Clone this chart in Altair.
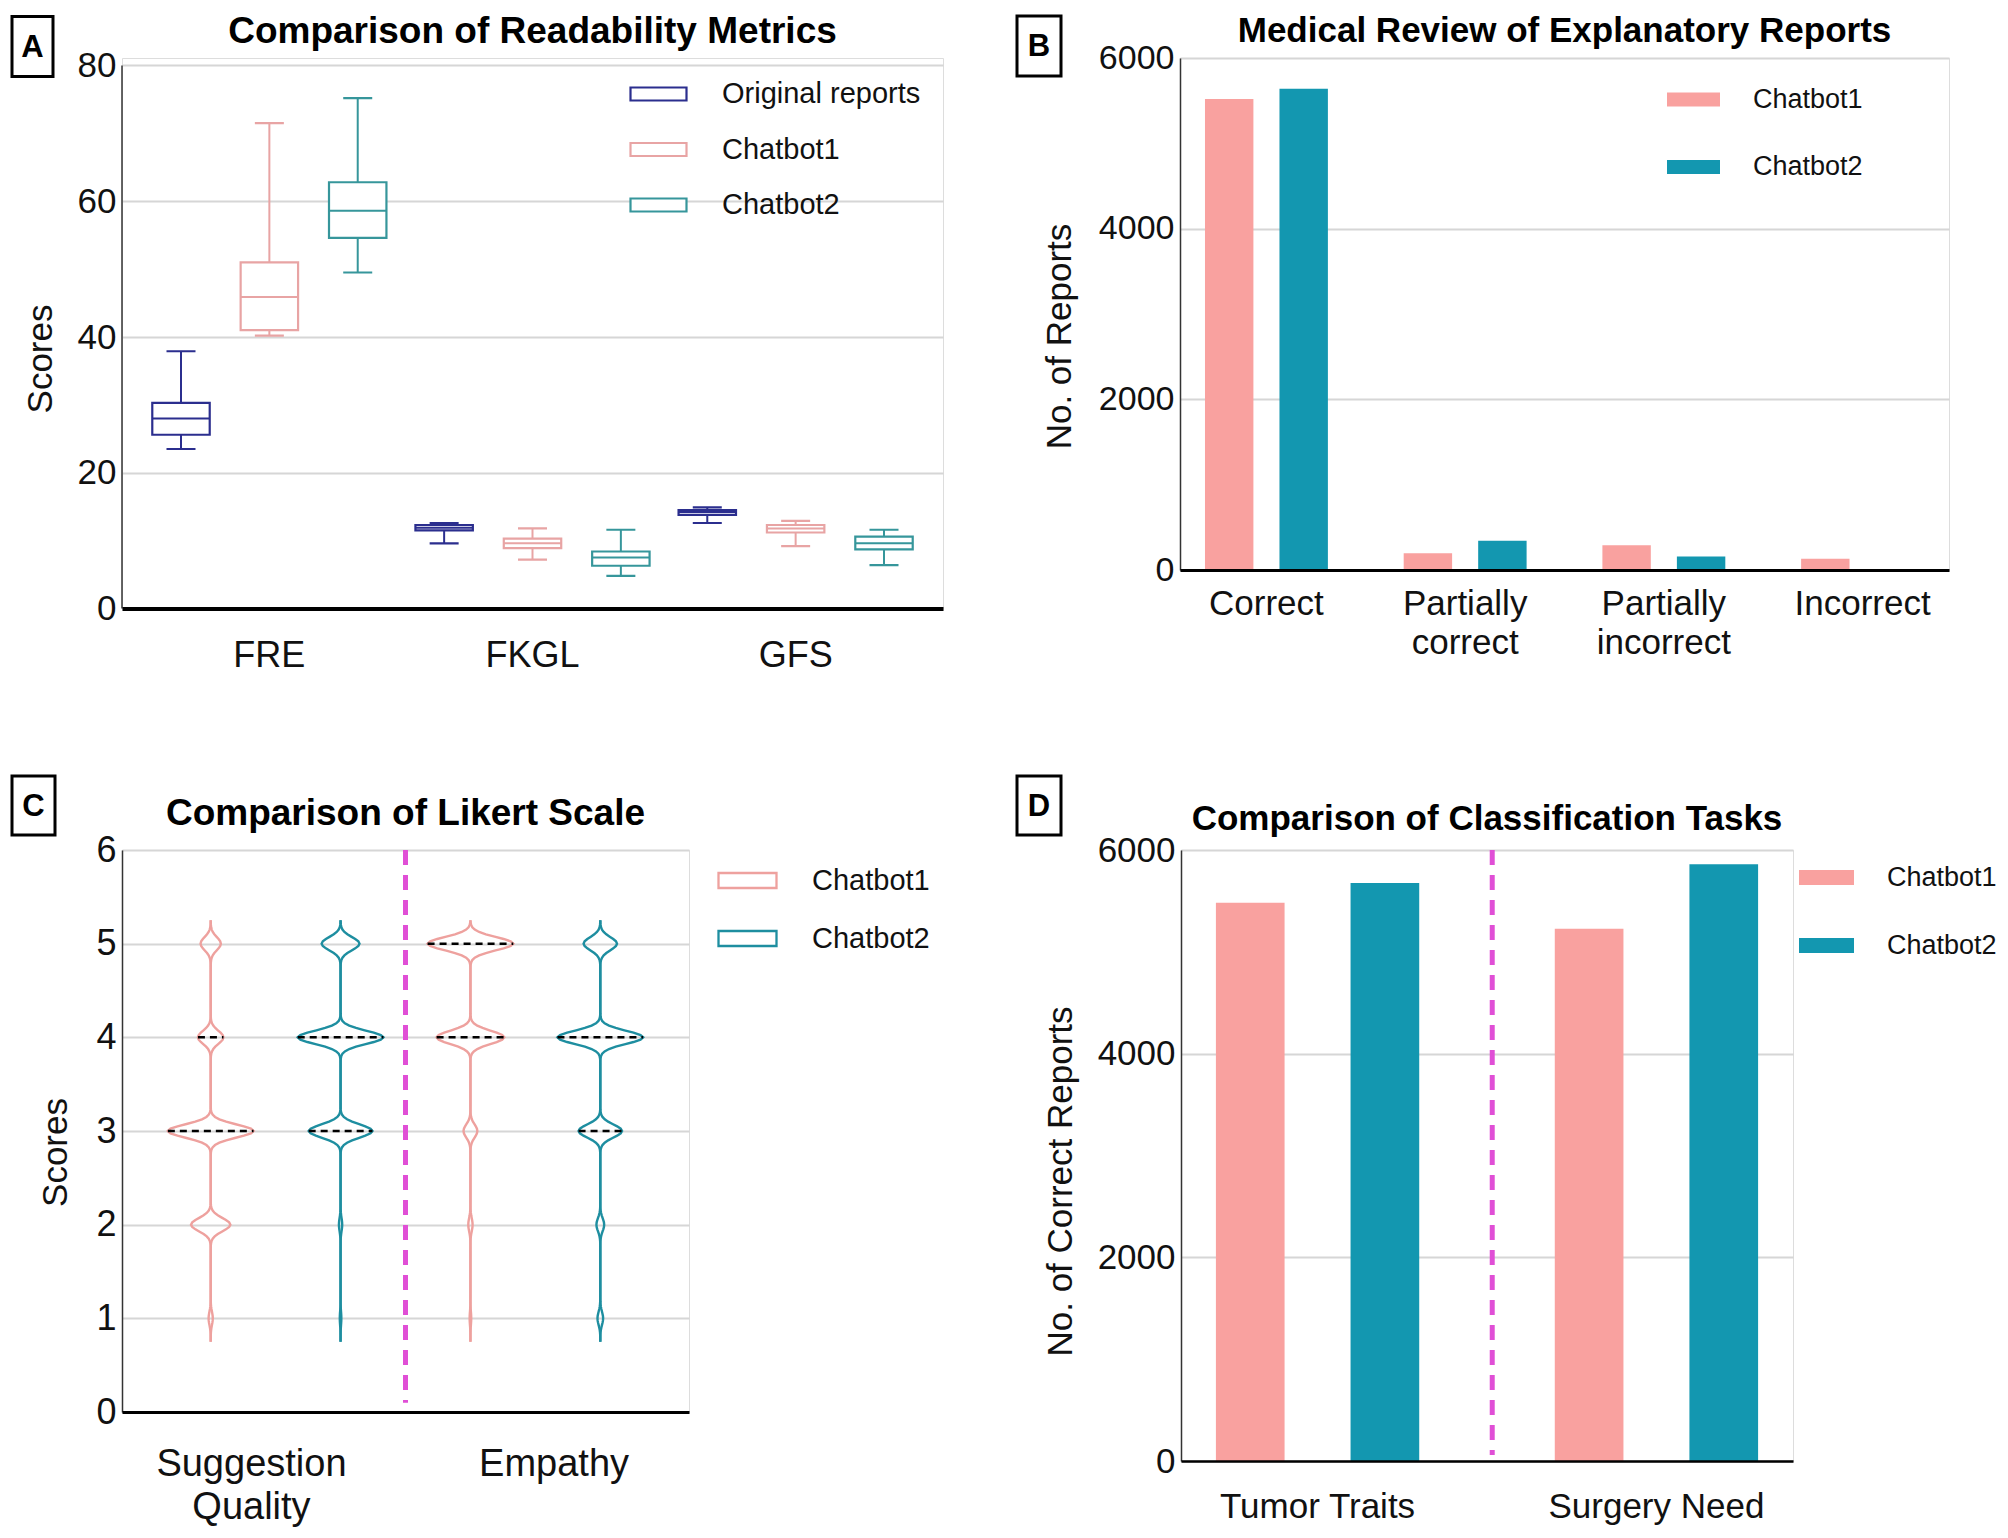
import altair as alt
import numpy as np
import pandas as pd

FONT = "Liberation Sans"
TXT = "#111111"
GRID = "#d6d6d6"

panel_titles = [
    "Comparison of Readability Metrics",
    "Medical Review of Explanatory Reports",
    "Comparison of Likert Scale",
    "Comparison of Classification Tasks",
]

# ---------------- Panel A: readability metrics (box plots) ----------------
a_metrics = ["FRE", "FKGL", "GFS"]
a_groups = ["Original reports", "Chatbot1", "Chatbot2"]
a_colors = ["#2b2e8e", "#e8a4a4", "#36969b"]
a_range = [0, 80]
# order: FRE(orig, c1, c2), FKGL(orig, c1, c2), GFS(orig, c1, c2)
a_min = [23.5, 40.2, 49.5, 9.6, 7.2, 4.8, 12.6, 9.2, 6.4]
a_q1 = [25.6, 41.0, 54.6, 11.5, 8.9, 6.3, 13.8, 11.2, 8.7]
a_med = [28.0, 45.9, 58.6, 11.9, 9.6, 7.5, 14.2, 11.8, 9.6]
a_q3 = [30.3, 51.0, 62.8, 12.3, 10.3, 8.4, 14.5, 12.3, 10.6]
a_max = [37.9, 71.5, 75.2, 12.6, 11.8, 11.6, 14.9, 12.9, 11.6]

# ---------------- Panel B: medical review ----------------
b_cats = ["Correct", "Partially correct", "Partially incorrect", "Incorrect"]
bots = ["Chatbot1", "Chatbot2"]
b_chatbot1 = [5520, 195, 290, 132]
b_chatbot2 = [5640, 343, 158, 4]
bar_colors = ["#F9A19F", "#1397B0"]

# ---------------- Panel C: Likert scale (violins), counts per score 1..5 (per mille) ----------------
c_tasks = ["Suggestion Quality", "Empathy"]
c_scores = [1, 2, 3, 4, 5]
c_sugg_chatbot1 = [24, 225, 490, 146, 116]
c_sugg_chatbot2 = [8, 17, 332, 446, 197]
c_emp_chatbot1 = [9, 25, 80, 391, 495]
c_emp_chatbot2 = [32, 44, 247, 487, 190]
violin_colors = ["#EEA19E", "#1E8EA0"]

# ---------------- Panel D: classification tasks ----------------
d_tasks = ["Tumor Traits", "Surgery Need"]
d_chatbot1 = [5483, 5227]
d_chatbot2 = [5676, 5860]

MAGENTA = "#E04FD6"


def rect_path(w, h):
    r = h / w
    return f"M-1,-{r:.3f}L1,-{r:.3f}L1,{r:.3f}L-1,{r:.3f}Z"


def label_box(letter, x1, x2, y1, y2):
    df = pd.DataFrame({"panel": [letter]})
    rect = alt.Chart(df).mark_rect(fill="white", stroke="black", strokeWidth=3).encode(
        x=alt.value(x1), x2=alt.value(x2), y=alt.value(y1), y2=alt.value(y2)
    )
    txt = alt.Chart(df).mark_text(
        font=FONT, fontSize=31, fontWeight="bold", align="center", baseline="middle", color="black"
    ).encode(x=alt.value((x1 + x2) / 2), y=alt.value((y1 + y2) / 2 + 1), text="panel:N")
    return [rect, txt]


def title_mark(text, x, y, size):
    df = pd.DataFrame({"title": [text]})
    return alt.Chart(df).mark_text(
        font=FONT, fontSize=size, fontWeight="bold", align="center", baseline="middle", color="black"
    ).encode(x=alt.value(x), y=alt.value(y), text="title:N")


def y_axis(values, title, tx, ty, lsize, domain=True):
    return alt.Axis(
        values=values, title=title, titleFont=FONT, titleFontSize=35, titleFontWeight="normal",
        titleColor=TXT, titleX=tx, titleY=ty, titleBaseline="middle", titleAlign="center",
        labelFont=FONT, labelFontSize=lsize, labelColor=TXT, labelPadding=6, ticks=False,
        domain=domain, domainColor="#333333", domainWidth=1.5, grid=True, gridColor=GRID,
        gridWidth=2, format="d",
    )


def x_axis(lsize, lpad, dwidth, expr=None, values=None, lineh=None):
    kw = dict(
        title=None, labelAngle=0, ticks=False, grid=False, domainColor="black", domainWidth=dwidth,
        labelFont=FONT, labelFontSize=lsize, labelColor=TXT, labelPadding=lpad, zindex=1,
        labelLimit=500,
    )
    if expr is not None:
        kw["labelExpr"] = expr
    if values is not None:
        kw["values"] = values
    if lineh is not None:
        kw["labelLineHeight"] = lineh
    return alt.Axis(**kw)


def legend(x, y, w, h, fsize, row_pad, off, stroke_w=0.0, hollow=False):
    kw = dict(
        title=None, orient="none", legendX=x, legendY=y, symbolType=rect_path(w, h),
        symbolSize=w * w, labelFont=FONT, labelFontSize=fsize, labelColor=TXT, labelLimit=500,
        rowPadding=row_pad, labelOffset=off, symbolOpacity=1,
    )
    if stroke_w > 0:
        kw["symbolStrokeWidth"] = stroke_w
    if hollow:
        kw["symbolFillColor"] = "white"
    return alt.Legend(**kw)


# ===================== Panel A =====================
A_W, A_H0 = 821, 543
A_EXTRA = 7.5  # extra room above the 80 line so panel B's plot can sit higher in the row
A_H = A_H0 + A_EXTRA
a_top = a_range[1] * A_H / A_H0
rows = []
for mi, m in enumerate(a_metrics):
    for gi, g in enumerate(a_groups):
        k = mi * 3 + gi
        rows.append(dict(metric=m, group=g, lo=a_min[k], q1=a_q1[k], med=a_med[k], q3=a_q3[k], hi=a_max[k]))
df_a = pd.DataFrame(rows)

a_ys = alt.Scale(domain=[a_range[0], a_top], nice=False)
a_y_axis = y_axis([0, 20, 40, 60, 80], "Scores", -82, 293 + A_EXTRA, 35, domain=False)
ax_a_x = alt.X("metric:N", sort=a_metrics, scale=alt.Scale(domain=a_metrics, paddingInner=0.0, paddingOuter=0.06),
               axis=x_axis(36, 30, 4))
ax_a_xo = alt.XOffset("group:N", sort=a_groups,
                      scale=alt.Scale(domain=a_groups, paddingInner=0.35, paddingOuter=0.164))
ax_a_y = alt.Y("lo:Q", scale=a_ys, axis=a_y_axis)
stroke_a = alt.Stroke("group:N", sort=a_groups, scale=alt.Scale(domain=a_groups, range=a_colors),
                      legend=legend(507, -1 + A_EXTRA, 56, 13, 29, 10.5, 34, 2.2, hollow=True))

base_a = alt.Chart(df_a).encode(x=ax_a_x, xOffset=ax_a_xo, stroke=stroke_a)
whisk = base_a.mark_rule(strokeWidth=2).encode(y=ax_a_y, y2="hi:Q")
box = base_a.mark_bar(fill="white", strokeWidth=2.2).encode(y=alt.Y("q1:Q"), y2="q3:Q")
medl = base_a.mark_bar(fill="white", strokeWidth=2).encode(y=alt.Y("med:Q"), y2="med:Q")
cap_lo = base_a.mark_bar(fill="white", strokeWidth=2.2, width=29).encode(y=alt.Y("lo:Q"), y2="lo:Q")
cap_hi = base_a.mark_bar(fill="white", strokeWidth=2.2, width=29).encode(y=alt.Y("hi:Q"), y2="hi:Q")
a_axis_line = alt.Chart(pd.DataFrame({"lo": [a_range[0]], "hi": [a_range[1]]})).mark_rule(
    color="#333333", strokeWidth=1.5
).encode(x=alt.value(0), y=alt.Y("lo:Q", scale=a_ys, axis=a_y_axis), y2="hi:Q")

chart_a = alt.layer(
    whisk, box, medl, cap_lo, cap_hi, a_axis_line,
    *label_box("A", -110, -69, -49 + A_EXTRA, 11 + A_EXTRA),
    title_mark(panel_titles[0], A_W / 2, -34 + A_EXTRA, 37),
).properties(width=A_W, height=A_H)

# ===================== Panel B =====================
B_W, B_H = 769, 512
df_b = pd.DataFrame({
    "category": b_cats * 2,
    "bot": [bots[0]] * 4 + [bots[1]] * 4,
    "value": b_chatbot1 + b_chatbot2,
})
bars_b = alt.Chart(df_b).mark_bar().encode(
    x=alt.X("category:N", sort=b_cats, scale=alt.Scale(domain=b_cats, paddingInner=0.2, paddingOuter=0.035),
            axis=x_axis(35, 16, 3, expr="split(datum.label, ' ')", lineh=39)),
    xOffset=alt.XOffset("bot:N", sort=bots, scale=alt.Scale(domain=bots, paddingInner=0.35, paddingOuter=0.242)),
    y=alt.Y("value:Q", scale=alt.Scale(domain=[0, 6000], nice=False),
            axis=y_axis([0, 2000, 4000, 6000], "No. of Reports", -121, 278, 34)),
    color=alt.Color("bot:N", sort=bots, scale=alt.Scale(domain=bots, range=bar_colors),
                    legend=legend(486, 14, 53, 14, 27, 26.5, 32)),
)
chart_b = alt.layer(
    bars_b, *label_box("B", -163, -119, -42, 18), title_mark(panel_titles[1], B_W / 2, -27.5, 35)
).properties(width=B_W, height=B_H)

# ===================== Panel C =====================
C_W, C_H = 567, 562
count_sets = {
    (c_tasks[0], bots[0]): c_sugg_chatbot1,
    (c_tasks[0], bots[1]): c_sugg_chatbot2,
    (c_tasks[1], bots[0]): c_emp_chatbot1,
    (c_tasks[1], bots[1]): c_emp_chatbot2,
}
raw_rows = []
line_rows = []
for (t, b), cnts in count_sets.items():
    vals = np.repeat(c_scores, cnts)
    for v in vals:
        raw_rows.append(dict(task=t, bot=b, score=int(v)))
    levels = sorted(set(int(q) for q in np.quantile(vals, [0.25, 0.5, 0.75], method="inverted_cdf")))
    for lv in levels:
        line_rows.append(dict(key=f"{t}|{b}|{lv}", kind="quartile"))
df_c = pd.DataFrame(raw_rows)
df_lines = pd.DataFrame(line_rows)

tasks_js = "[" + ",".join(f"'{t}'" for t in c_tasks) + "]"
bots_js = "[" + ",".join(f"'{b}'" for b in bots) + "]"
HALF = 0.33
C_XDOM = [-0.683, 3.683]
c_x_axis = x_axis(38, 33, 3, values=[0.31, 2.64],
                  expr=f"split(datum.value < 1.5 ? '{c_tasks[0]}' : '{c_tasks[1]}', ' ')", lineh=43)
c_y_axis = y_axis([0, 1, 2, 3, 4, 5, 6], "Scores", -67, 302, 36)
c_xs = alt.Scale(domain=C_XDOM, nice=False, zero=False)
c_ys = alt.Scale(domain=[0, 6], nice=False)
c_color = alt.Color("bot:N", sort=bots, scale=alt.Scale(domain=bots, range=violin_colors),
                    legend=legend(595, 0, 58, 15, 29, 12, 34, 2.3, hollow=True))

dens = (
    alt.Chart(df_c)
    .transform_density("score", groupby=["task", "bot"], bandwidth=0.07, extent=[0.75, 5.25], steps=180,
                       as_=["score", "density"])
    .transform_joinaggregate(maxd="max(density)", groupby=["task", "bot"])
    .transform_calculate(
        center=f"indexof({tasks_js}, datum.task)*2 + indexof({bots_js}, datum.bot)",
        w="datum.density / datum.maxd",
    )
    .transform_calculate(xl=f"datum.center - datum.w*{HALF}", xr=f"datum.center + datum.w*{HALF}")
)
v_left = dens.mark_line(strokeWidth=2.4).encode(
    y=alt.Y("score:Q", scale=c_ys, axis=c_y_axis),
    x=alt.X("xl:Q", scale=c_xs, axis=c_x_axis),
    detail="task:N", order="score:Q", color=c_color,
)
v_right = dens.mark_line(strokeWidth=2.4).encode(
    y=alt.Y("score:Q", scale=c_ys, axis=c_y_axis),
    x=alt.X("xr:Q", scale=c_xs, axis=c_x_axis),
    detail="task:N", order="score:Q", color=c_color,
)
qlines = (
    dens.transform_filter("abs(datum.score - round(datum.score)) < 0.001")
    .transform_calculate(key="datum.task + '|' + datum.bot + '|' + round(datum.score)")
    .transform_lookup(lookup="key", from_=alt.LookupData(data=alt.InlineData(values=df_lines.to_dict("records")),
                                                          key="key", fields=["kind"]))
    .transform_filter("isValid(datum.kind)")
    .mark_rule(color="black", strokeWidth=2.5, strokeDash=[7, 5])
    .encode(
        y=alt.Y("score:Q", scale=c_ys, axis=c_y_axis),
        x=alt.X("xl:Q", scale=c_xs, axis=c_x_axis),
        x2="xr:Q",
    )
)
c_divider = pd.DataFrame({"pos": [1.5], "top": [6.0], "bottom": [0.1]})
div_c = alt.Chart(c_divider).mark_rule(color=MAGENTA, strokeWidth=5, strokeDash=[15, 10]).encode(
    x=alt.X("pos:Q", scale=c_xs, axis=c_x_axis),
    y=alt.Y("top:Q", scale=c_ys, axis=c_y_axis),
    y2="bottom:Q",
)
chart_c = alt.layer(
    div_c, v_left, v_right, qlines, *label_box("C", -110, -67, -74, -15),
    title_mark(panel_titles[2], C_W / 2, -36, 37),
).properties(width=C_W, height=C_H)

# ===================== Panel D =====================
D_W, D_H = 612, 611
df_d = pd.DataFrame({
    "task": d_tasks * 2,
    "bot": [bots[0]] * 2 + [bots[1]] * 2,
    "value": d_chatbot1 + d_chatbot2,
})
d_x_scale = alt.Scale(domain=d_tasks, paddingInner=0.4, paddingOuter=0.103)
d_y_axis = y_axis([0, 2000, 4000, 6000], "No. of Correct Reports", -121, 331, 35)
bars_d = alt.Chart(df_d).mark_bar().encode(
    x=alt.X("task:N", sort=d_tasks, scale=d_x_scale, axis=x_axis(35, 28, 2.5)),
    xOffset=alt.XOffset("bot:N", sort=bots, scale=alt.Scale(domain=bots, paddingInner=0.49, paddingOuter=0.0)),
    y=alt.Y("value:Q", scale=alt.Scale(domain=[0, 6000], nice=False), axis=d_y_axis),
    color=alt.Color("bot:N", sort=bots, scale=alt.Scale(domain=bots, range=bar_colors),
                    legend=legend(617, -1, 55, 15, 27, 26, 32)),
)
d_divider = pd.DataFrame({"task": [d_tasks[0]], "top": [6000], "bottom": [60]})
div_d = alt.Chart(d_divider).mark_rule(color=MAGENTA, strokeWidth=5, strokeDash=[15, 10], xOffset=73).encode(
    x=alt.X("task:N", sort=d_tasks, scale=d_x_scale, bandPosition=1, axis=x_axis(35, 28, 2.5)),
    y=alt.Y("top:Q", scale=alt.Scale(domain=[0, 6000], nice=False), axis=d_y_axis),
    y2="bottom:Q",
)
chart_d = alt.layer(
    bars_d, div_d, *label_box("D", -164, -120, -74, -15), title_mark(panel_titles[3], D_W / 2, -31, 35)
).properties(width=D_W, height=D_H)

IND = dict(color="independent", stroke="independent", xOffset="independent")
LIND = dict(color="independent", stroke="independent")
row1 = alt.hconcat(chart_a, chart_b, spacing=71).resolve_scale(**IND).resolve_legend(**LIND)
row2 = alt.hconcat(chart_c, chart_d, spacing=84).resolve_scale(**IND).resolve_legend(**LIND)

chart = (
    alt.vconcat(row1, row2, spacing=100)
    .resolve_scale(**IND)
    .resolve_legend(**LIND)
    .properties(padding={"left": 2, "top": 4, "right": 0, "bottom": 0})
    .configure_view(stroke=None)
    .configure(background="white")
)

chart.save("out.html", embed_options={"renderer": "svg", "actions": False})
